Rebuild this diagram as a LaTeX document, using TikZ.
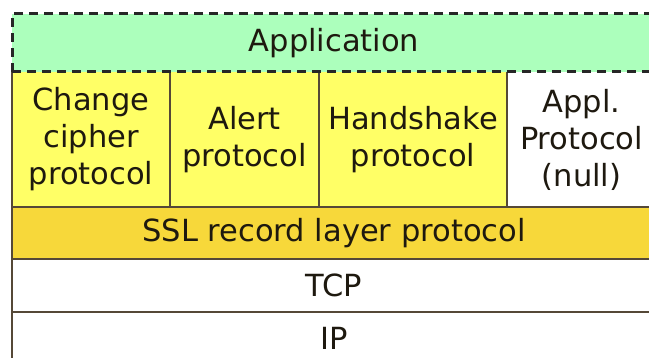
\documentclass[tikz,border=0pt]{standalone}
\usepackage{fontspec}
\setmainfont{DejaVu Sans}
\usetikzlibrary{positioning}

\definecolor{appgreen}{RGB}{172,255,188}
\definecolor{ctlyellow}{RGB}{255,255,102}
\definecolor{recgold}{RGB}{247,216,58}
\definecolor{rulecol}{RGB}{85,72,55}
\definecolor{inkcol}{RGB}{30,25,15}

\tikzset{
	layer/.style={inner sep=0pt, outer sep=0pt, align=center, text=inkcol,
		font=\fontsize{30.5}{37}\selectfont, minimum width=644pt},
	cell/.style={layer, fill=ctlyellow, minimum height=135pt},
	rule/.style={draw=rulecol, line width=1.5pt},
	dashrule/.style={draw=black!85, line width=3pt, dash pattern=on 9pt off 6pt},
}

\begin{document}
\begin{tikzpicture}[x=1pt, y=1pt, node distance=0pt]
	\useasboundingbox (0,0) rectangle (649,-358);
	\fill[white] (0,0) rectangle (649,-358);
	
	% application on top
	\node[layer, fill=appgreen, minimum height=58pt, anchor=north west] (app) at (12,-14) {Application};
	
	% SSL control protocols
	\node[cell, minimum width=158pt, below right = 0pt of app.south west] (ccp) {Change\\cipher\\protocol};
	\node[cell, minimum width=149pt, right = 0pt of ccp] (alert) {Alert\\protocol};
	\node[cell, minimum width=188pt, right = 0pt of alert] (hand) {Handshake\\protocol};
	\node[cell, fill=white, minimum width=149pt, right = 0pt of hand] (appl) {Appl.\\Protocol\\(null)};
	
	% lower layers
	\node[layer, fill=recgold, minimum height=52pt, below right = 0pt of ccp.south west] (ssl) {SSL record layer protocol};
	\node[layer, minimum height=53pt, below = 0pt of ssl] (tcp) {TCP};
	\node[layer, minimum height=52pt, below = 0pt of tcp] (ip) {IP};
	
	% borders
	\draw[rule] (ccp.north west) -- (ip.south west);
	\foreach \c in {ccp, alert, hand}
		\draw[rule] (\c.north east) -- (\c.south east);
	\draw[rule] (ssl.north west) -- (ssl.north east);
	\draw[rule] (ssl.south west) -- (ssl.south east);
	\draw[rule] (tcp.south west) -- (tcp.south east);
	\draw[dashrule] (app.south west) -- (app.north west) -- (app.north east);
	\draw[dashrule] (app.south west) -- (app.south east);
\end{tikzpicture}
\end{document}
